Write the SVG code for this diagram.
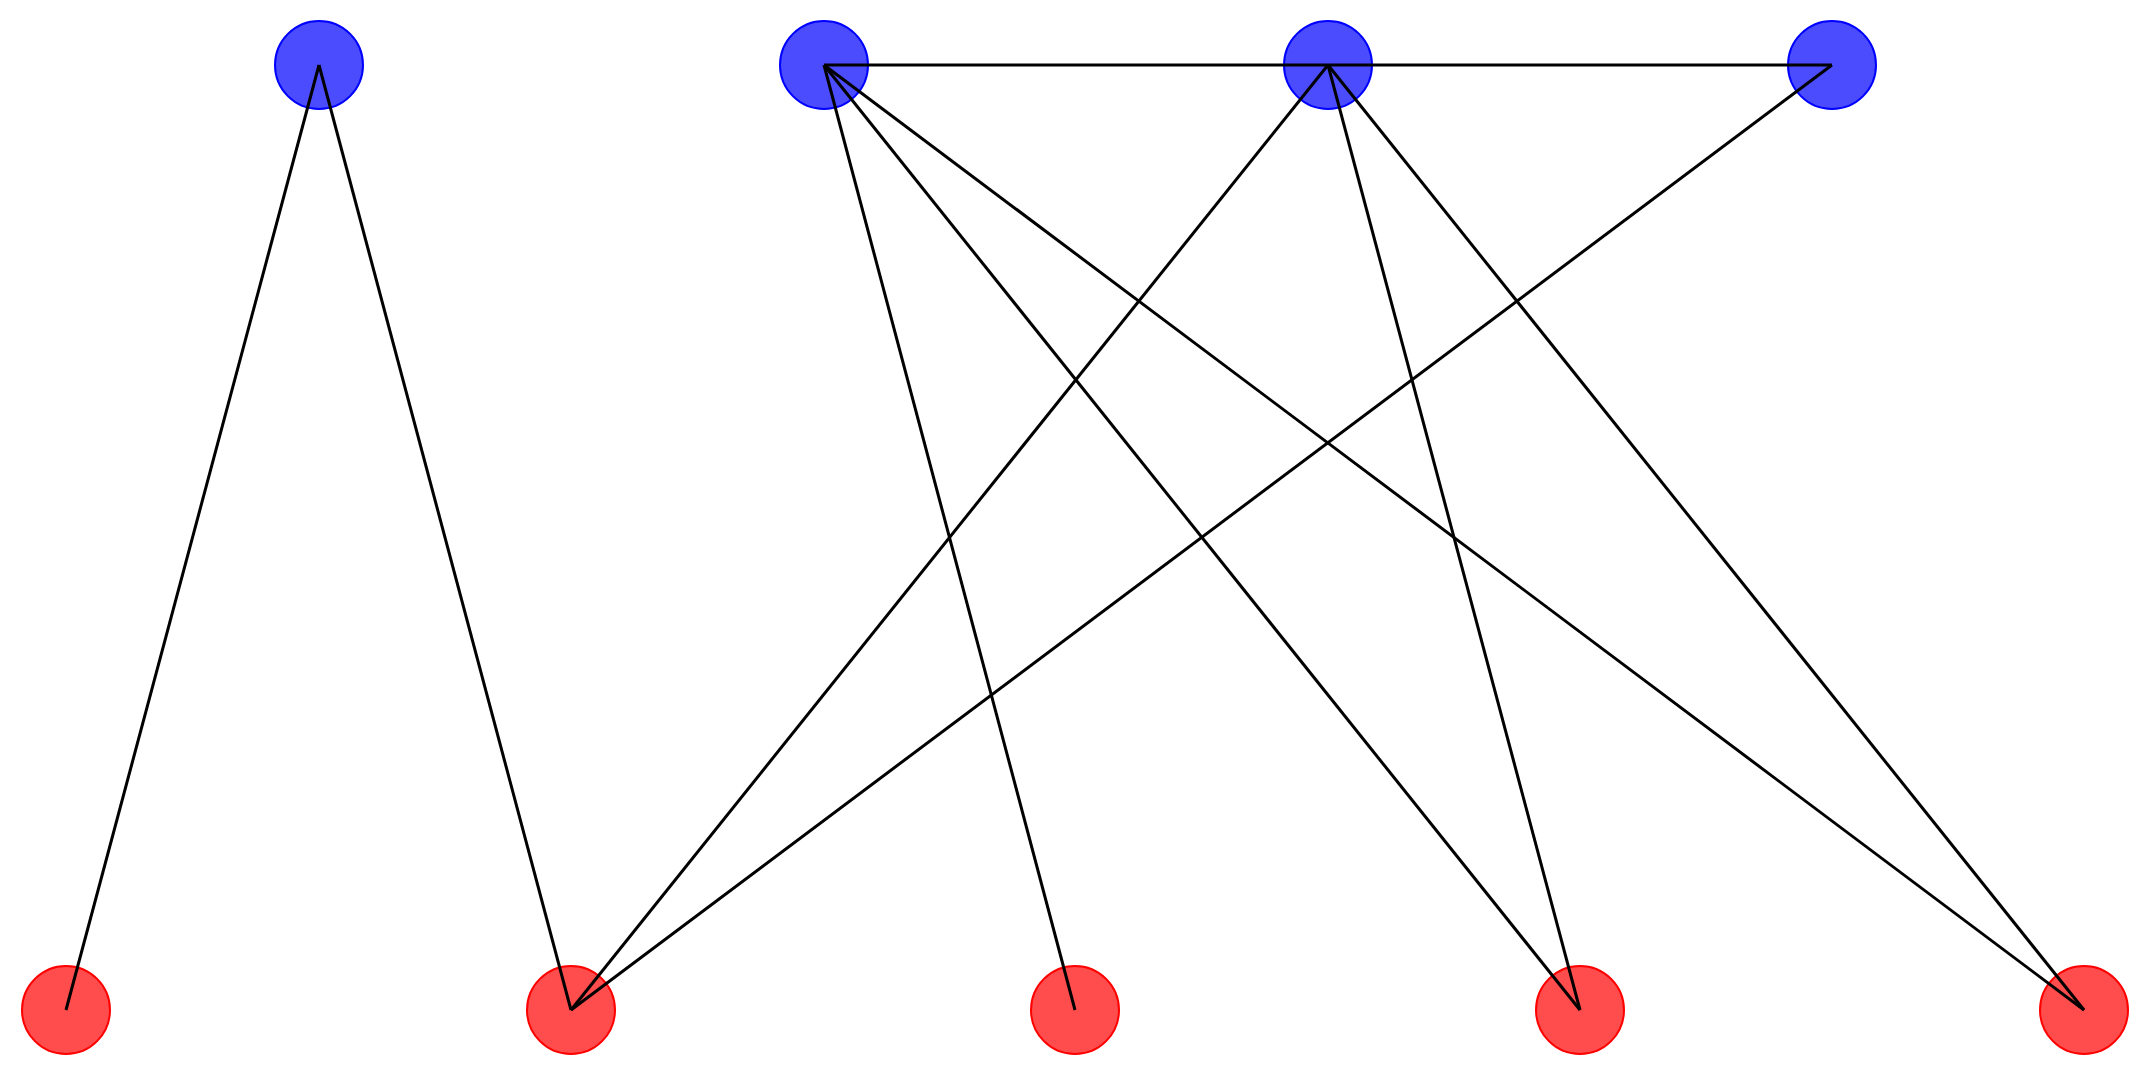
<svg xmlns="http://www.w3.org/2000/svg" width="2153" height="1084" viewBox="0 0 2153 1084">
<style>
.b{fill:#0000ff;fill-opacity:0.7;stroke:#0000ff;stroke-width:2}
.r{fill:#ff0000;fill-opacity:0.7;stroke:#ff0000;stroke-width:2}
.e{stroke:#000;stroke-width:3;fill:none}
</style>
<rect width="2153" height="1084" fill="#fff"/>
<g id="n_b0"><circle class="b" cx="319" cy="65" r="44"/></g>
<g id="n_b1"><circle class="b" cx="824" cy="65" r="44"/></g>
<g id="n_b2"><circle class="b" cx="1328" cy="65" r="44"/></g>
<g id="n_b3"><circle class="b" cx="1832" cy="65" r="44"/></g>
<g id="n_r0"><circle class="r" cx="66" cy="1010" r="44"/></g>
<g id="n_r1"><circle class="r" cx="571" cy="1010" r="44"/></g>
<g id="n_r2"><circle class="r" cx="1075" cy="1010" r="44"/></g>
<g id="n_r3"><circle class="r" cx="1580" cy="1010" r="44"/></g>
<g id="n_r4"><circle class="r" cx="2084" cy="1010" r="44"/></g>
<g id="edges" class="e">
<line x1="319" y1="65" x2="66" y2="1010"/>
<line x1="319" y1="65" x2="571" y2="1010"/>
<line x1="824" y1="65" x2="1832" y2="65"/>
<line x1="824" y1="65" x2="1075" y2="1010"/>
<line x1="824" y1="65" x2="1580" y2="1010"/>
<line x1="824" y1="65" x2="2084" y2="1010"/>
<line x1="1328" y1="65" x2="571" y2="1010"/>
<line x1="1328" y1="65" x2="1580" y2="1010"/>
<line x1="1328" y1="65" x2="2084" y2="1010"/>
<line x1="1832" y1="65" x2="571" y2="1010"/>
</g>
</svg>
